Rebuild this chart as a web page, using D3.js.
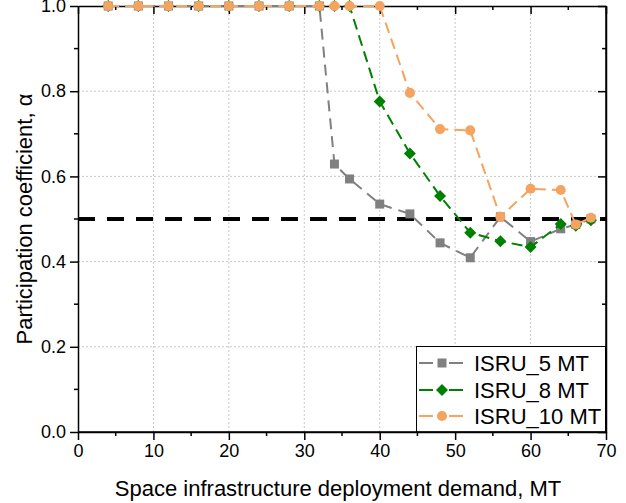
<!DOCTYPE html>
<html><head><meta charset="utf-8">
<script src="https://cdn.jsdelivr.net/npm/d3@7"></script>
<style>body{margin:0;background:#fff;} text{font-family:"Liberation Sans",Arial,sans-serif;}</style>
</head><body>
<svg id="c" width="626" height="503"></svg>
<script>
const demand = [4,8,12,16,20,24,28,32,34,36,40,44,48,52,56,60,64,66,68];
const isru5  = [1,1,1,1,1,1,1,1,0.629,0.594,0.535,0.512,0.444,0.409,0.505,0.447,0.477,0.487,0.500];
const isru8  = [1,1,1,1,1,1,1,1,1,1,0.776,0.654,0.554,0.468,0.448,0.434,0.488,0.484,0.497];
const isru10 = [1,1,1,1,1,1,1,1,1,1,1,0.796,0.711,0.708,0.505,0.571,0.568,0.487,0.503];
const seriesNames = ["ISRU_5 MT","ISRU_8 MT","ISRU_10 MT"];
const xTicks = [0,10,20,30,40,50,60,70];
const yTicks = [0,0.2,0.4,0.6,0.8,1.0];
const threshold = 0.5;

const svg = d3.select("#c");
const L=78,R=606,T=6,B=432;
const x = d3.scaleLinear().domain([0,70]).range([L,R]);
const y = d3.scaleLinear().domain([0,1]).range([B,T]);

// grid
const g = svg.append("g");
g.selectAll(".gx").data(xTicks.filter(d=>d>0&&d<70)).join("line")
  .attr("x1",d=>x(d)).attr("x2",d=>x(d)).attr("y1",T).attr("y2",B)
  .attr("stroke","#c8c8c8").attr("stroke-width",1).attr("stroke-dasharray","2,2");
g.selectAll(".gy").data(yTicks.filter(d=>d>0&&d<1)).join("line")
  .attr("y1",d=>y(d)).attr("y2",d=>y(d)).attr("x1",L).attr("x2",R)
  .attr("stroke","#c8c8c8").attr("stroke-width",1).attr("stroke-dasharray","2,2");

// threshold line
svg.append("line").attr("x1",L).attr("x2",R).attr("y1",y(threshold)).attr("y2",y(threshold))
  .attr("stroke","#000").attr("stroke-width",4).attr("stroke-dasharray","17,12");

// axes
function styleAxis(sel){
  sel.select(".domain").attr("stroke","#000").attr("stroke-width",1.5);
  sel.selectAll(".tick line").attr("stroke","#000").attr("stroke-width",1.5);
  sel.selectAll("text").attr("font-size","18px").attr("fill","#000").attr("font-family","Liberation Sans, Arial, sans-serif");
}
const xMinor = d3.range(5,70,10), yMinor = d3.range(0.1,1,0.2);
// bottom
const ax = svg.append("g").attr("transform",`translate(0,${B})`)
  .call(d3.axisBottom(x).tickValues(xTicks).tickFormat(d3.format("d")).tickSizeInner(8).tickSizeOuter(0).tickPadding(4));
styleAxis(ax);
svg.append("g").selectAll("line").data(xMinor).join("line")
  .attr("x1",d=>x(d)).attr("x2",d=>x(d)).attr("y1",B).attr("y2",B+4).attr("stroke","#000").attr("stroke-width",1.5);
// left
const ay = svg.append("g").attr("transform",`translate(${L},0)`)
  .call(d3.axisLeft(y).tickValues(yTicks).tickFormat(d3.format(".1f")).tickSizeInner(8).tickSizeOuter(0).tickPadding(4));
styleAxis(ay);
svg.append("g").selectAll("line").data(yMinor).join("line")
  .attr("y1",d=>y(d)).attr("y2",d=>y(d)).attr("x1",L-4).attr("x2",L).attr("stroke","#000").attr("stroke-width",1.5);
// top
const at = svg.append("g").attr("transform",`translate(0,${T})`)
  .call(d3.axisBottom(x).tickValues(xTicks).tickFormat("").tickSizeInner(8).tickSizeOuter(0));
styleAxis(at);
svg.append("g").selectAll("line").data(xMinor).join("line")
  .attr("x1",d=>x(d)).attr("x2",d=>x(d)).attr("y1",T).attr("y2",T+4).attr("stroke","#000").attr("stroke-width",1.5);
// right
const ar = svg.append("g").attr("transform",`translate(${R},0)`)
  .call(d3.axisLeft(y).tickValues(yTicks).tickFormat("").tickSizeInner(8).tickSizeOuter(0));
styleAxis(ar);
svg.append("g").selectAll("line").data(yMinor).join("line")
  .attr("y1",d=>y(d)).attr("y2",d=>y(d)).attr("x1",R-4).attr("x2",R).attr("stroke","#000").attr("stroke-width",1.5);

// axis titles
svg.append("text").attr("x",(L+R)/2-4).attr("y",496).attr("text-anchor","middle")
  .attr("font-size","22px").attr("fill","#000").text("Space infrastructure deployment demand, MT");
svg.append("text").attr("transform","translate(32,219) rotate(-90)").attr("text-anchor","middle")
  .attr("font-size","22px").attr("fill","#000").text("Participation coefficient, α");

// series
const colors = ["#808080","#008000","#F4A460"];
const dashes = ["11,7","11,6","11,6"];
const symbols = [d3.symbolSquare, d3.symbolSquare, d3.symbolCircle];
const rotations = [0,45,0];
const sizes = [81, 72, 80];
const allSeries = [isru5, isru8, isru10];
const line = d3.line().x(d=>x(d[0])).y(d=>y(d[1]));
allSeries.forEach((vals,i)=>{
  const pts = demand.map((d,j)=>[d,vals[j]]);
  const sg = svg.append("g");
  sg.append("path").datum(pts).attr("d",line).attr("fill","none")
    .attr("stroke",colors[i]).attr("stroke-width",2).attr("stroke-dasharray",dashes[i]);
  sg.selectAll("path.m").data(pts).join("path").attr("class","m")
    .attr("transform",d=>`translate(${x(d[0])},${y(d[1])}) rotate(${rotations[i]})`)
    .attr("d",d3.symbol().type(symbols[i]).size(sizes[i])).attr("fill",colors[i]);
});

// legend
const lg = svg.append("g");
lg.append("rect").attr("x",416.5).attr("y",346.5).attr("width",189).attr("height",85.5)
  .attr("fill","#fff").attr("stroke","#000").attr("stroke-width",1);
const rowsY = [363,390,416];
seriesNames.forEach((n,i)=>{
  lg.append("line").attr("x1",419).attr("x2",463).attr("y1",rowsY[i]).attr("y2",rowsY[i])
    .attr("stroke",colors[i]).attr("stroke-width",2).attr("stroke-dasharray","14,16");
  lg.append("path").attr("transform",`translate(442,${rowsY[i]}) rotate(${rotations[i]})`)
    .attr("d",d3.symbol().type(symbols[i]).size(sizes[i])).attr("fill",colors[i]);
  lg.append("text").attr("x",474).attr("y",rowsY[i]).attr("dy","0.36em")
    .attr("font-size","22px").attr("fill","#000").text(n);
});
// redraw right/bottom axis lines over legend
svg.append("line").attr("x1",R).attr("x2",R).attr("y1",T).attr("y2",B).attr("stroke","#000").attr("stroke-width",1.5);
svg.append("line").attr("x1",L).attr("x2",R).attr("y1",B).attr("y2",B).attr("stroke","#000").attr("stroke-width",1.5);
</script>
</body></html>
